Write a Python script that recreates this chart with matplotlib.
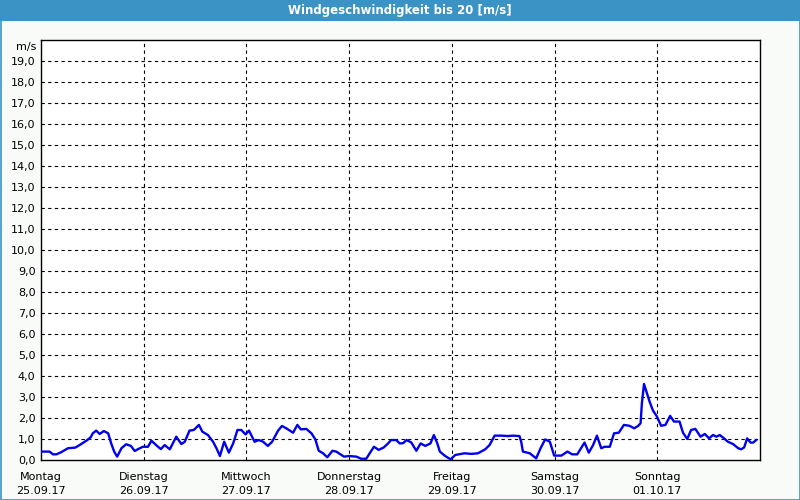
import matplotlib
matplotlib.use("Agg")
import matplotlib.pyplot as plt
from matplotlib.patches import Rectangle

title = "Windgeschwindigkeit bis 20 [m/s]"
unit_label = "m/s"
day_names = ["Montag", "Dienstag", "Mittwoch", "Donnerstag", "Freitag", "Samstag", "Sonntag"]
day_dates = ["25.09.17", "26.09.17", "27.09.17", "28.09.17", "29.09.17", "30.09.17", "01.10.17"]

# hours since Monday 25.09.17 00:00
hours = [0.0, 2.0, 2.8, 3.6, 4.7, 6.3, 8.0, 9.0, 10.6, 11.6, 12.1, 12.9, 13.7, 14.7, 15.7,
         16.4, 17.1, 17.8, 18.8, 19.9, 21.0, 21.9, 22.7, 23.8, 25.0, 25.8, 26.9, 28.0, 28.9,
         30.1, 31.6, 32.8, 33.6, 34.7, 35.7, 36.9, 37.7, 39.0, 40.2, 41.0, 41.8, 42.8, 43.9,
         44.9, 45.9, 46.8, 47.8, 48.6, 49.9, 50.9, 51.9, 53.0, 54.0, 55.4, 56.3, 57.3, 58.9,
         59.9, 60.7, 62.0, 63.2, 64.1, 64.9, 65.9, 66.9, 68.1, 69.0, 70.8, 72.0, 73.7, 74.8,
         76.0, 76.8, 77.8, 78.9, 80.1, 81.1, 81.8, 83.0, 83.8, 84.6, 85.4, 86.5, 87.7, 88.7,
         89.8, 91.0, 91.8, 92.6, 93.2, 94.3, 95.7, 96.8, 99.0, 100.5, 102.1, 103.8, 104.8,
         106.0, 107.5, 109.1, 110.3, 111.8, 112.2, 112.6, 114.2, 115.7, 116.8, 117.8, 118.9,
         119.9, 121.6, 123.0, 124.1, 125.3, 127.0, 128.0, 129.0, 129.9, 130.9, 131.7, 132.9,
         133.9, 135.0, 136.2, 137.5, 138.6, 139.5, 140.1, 140.4, 140.9, 141.4, 142.2, 143.0,
         143.8, 144.3, 144.9, 145.9, 147.0, 147.9, 149.2, 150.0, 151.0, 151.9, 152.9, 154.1,
         155.1, 156.1, 157.0, 157.8, 158.6, 159.6, 160.5, 161.7, 162.9, 163.6, 164.3, 165.0,
         165.8, 166.4, 167.1]
speed = [0.40, 0.40, 0.27, 0.27, 0.37, 0.56, 0.59, 0.71, 0.92, 1.08, 1.27, 1.40, 1.24, 1.38, 1.27,
         0.79, 0.40, 0.16, 0.56, 0.75, 0.67, 0.43, 0.52, 0.63, 0.63, 0.92, 0.71, 0.52, 0.71,
         0.51, 1.11, 0.76, 0.87, 1.40, 1.43, 1.67, 1.35, 1.19, 0.87, 0.56, 0.19, 0.87, 0.35,
         0.79, 1.43, 1.43, 1.22, 1.40, 0.87, 0.95, 0.87, 0.67, 0.87, 1.40, 1.62, 1.51, 1.30,
         1.67, 1.46, 1.48, 1.27, 0.98, 0.44, 0.32, 0.13, 0.44, 0.40, 0.16, 0.19, 0.16, 0.06,
         0.06, 0.32, 0.63, 0.48, 0.60, 0.79, 0.95, 0.95, 0.79, 0.80, 0.95, 0.84, 0.44, 0.79,
         0.67, 0.79, 1.19, 0.79, 0.40, 0.21, 0.03, 0.24, 0.32, 0.29, 0.32, 0.51, 0.71,
         1.16, 1.16, 1.14, 1.16, 1.14, 0.87, 0.40, 0.32, 0.08, 0.59, 0.98, 0.87,
         0.21, 0.21, 0.40, 0.27, 0.27, 0.83, 0.35, 0.71, 1.16, 0.56, 0.63, 0.63,
         1.27, 1.30, 1.67, 1.63, 1.51, 1.62, 1.75, 2.70, 3.62, 3.30, 2.78, 2.35,
         2.11, 1.90, 1.63, 1.67, 2.10, 1.83, 1.83, 1.30, 1.00, 1.43, 1.48, 1.11,
         1.24, 1.03, 1.19, 1.11, 1.19, 1.03, 0.87, 0.76, 0.56, 0.51, 0.60, 1.03,
         0.83, 0.83, 0.95]

W, H = 800, 500
bar_blue = "#3b92c5"
fig = plt.figure(figsize=(W / 100, H / 100), dpi=100)
fig.patch.set_facecolor("#f9fbf9")

# title bar and border
fig.add_artist(Rectangle((0, 1 - 21 / H), 1, 21 / H, transform=fig.transFigure,
                         facecolor=bar_blue, edgecolor="none", zorder=0))
fig.add_artist(Rectangle((0.5 / W, 0.5 / H), 1 - 1 / W, 1 - 1 / H, transform=fig.transFigure,
                         facecolor="none", edgecolor=bar_blue, lw=1.2, zorder=5))
fig.text(0.5, 1 - 10.5 / H, title, color="white", fontsize=8.5, fontweight="bold",
         ha="center", va="center", family="DejaVu Sans")

ax = fig.add_axes([41 / W, 40 / H, 719 / W, 420 / H])
ax.set_facecolor("white")
ax.plot(hours, speed, color="#0000ee", lw=1.7, zorder=3, solid_joinstyle="round")

ax.set_xlim(0, 168)
ax.set_ylim(0, 20)
ax.set_yticks(range(0, 20))
ax.set_yticklabels([f"{v},0" for v in range(0, 20)], fontsize=8)
ax.set_xticks([24 * i for i in range(7)])
ax.set_xticklabels([f"{n}\n{d}" for n, d in zip(day_names, day_dates)], fontsize=8,
                   linespacing=1.5)
ax.tick_params(length=0, pad=4, colors="black")
ax.tick_params(axis="x", pad=9)

for v in range(1, 20):
    ax.axhline(v, color="black", lw=0.8, ls=(0, (3, 3)), zorder=1)
for i in range(1, 7):
    ax.axvline(24 * i, color="black", lw=0.8, ls=(0, (3, 3)), zorder=1)

for s in ax.spines.values():
    s.set_color("black")
    s.set_linewidth(1.0)

ax.text(-0.006, 19.68, unit_label, transform=ax.get_yaxis_transform(), ha="right",
        va="center", fontsize=8)

fig.savefig("out.png", dpi=100, facecolor=fig.get_facecolor())
